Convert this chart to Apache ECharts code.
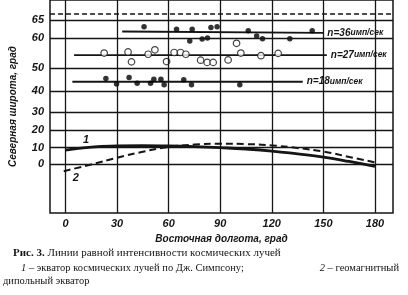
<!DOCTYPE html>
<html>
<head>
<meta charset="utf-8">
<script src="https://cdn.jsdelivr.net/npm/echarts@6/dist/echarts.min.js"></script>
<style>
html,body{margin:0;padding:0;background:#fff;}
#chart{width:408px;height:295px;}
</style>
</head>
<body>
<div id="chart"></div>
<script>
// долгота / широта
var lonTicks = [0, 30, 60, 90, 120, 150, 180];
var latTicks = [0, 10, 20, 30, 40, 50, 60, 65];

var n36 = [[45.7,63.3],[64.6,62.6],[73.7,62.6],[72.3,59.2],[79.5,59.8],[82.6,60.1],[84.6,63.1],[88.2,63.3],[106.3,62.2],[111.2,60.7],[114.6,59.9],[130.5,59.9],[143.5,62.2]];
var n36Line = [[33,62],[150,61.6]];

var n27 = [[22.5,55.3],[36.4,55.7],[38.4,52.2],[48.1,54.9],[52,56.4],[58.8,52.3],[63.2,55.5],[66.9,55.5],[70,54.9],[78.6,52.8],[82.4,52],[85.9,52],[94.6,52.9],[99.5,58.5],[102,55.3],[113.7,54.4],[123.7,55.2]];
var n27Line = [[5,54.6],[152,54.6]];

var n18 = [[23.5,45.7],[29.7,43.3],[37,46.1],[41.7,43.7],[49.5,43.7],[51.4,45.4],[55.5,45.4],[57.4,43],[68.8,45.1],[73.3,43],[101.4,43]];
var n18Line = [[4,44.3],[138,44.3]];

var eqLon = [0, 15, 30, 45, 60, 75, 90, 105, 120, 135, 150, 165, 180];
var simpson = [8.5, 10.3, 11, 11.2, 11, 10.6, 10, 9.2, 8, 6.3, 4.4, 1.8, -1.2];
var dipoleLon = [-1, 15, 30, 45, 60, 75, 90, 105, 120, 135, 150, 165, 182];
var dipole = [-4, 0, 4, 7.6, 10.4, 11.8, 12.3, 12.1, 11.3, 9.8, 7.7, 4.5, 0.8];
var polarLat = 66.5;

var yMin = -0.507, yMax = 1.718;

// ось широт в проекции Меркатора
function merc(lat){ return Math.log(Math.tan(Math.PI/4 + lat*Math.PI/360)); }
function unmerc(m){ return (2*Math.atan(Math.exp(m)) - Math.PI/2) * 180/Math.PI; }
function pts(arr){ return arr.map(function(p){ return [p[0], merc(p[1])]; }); }

var ink = '#151515';
var sans = '"Liberation Sans", Arial, sans-serif';
var serif = '"Liberation Serif", "Times New Roman", serif';

var chart = echarts.init(document.getElementById('chart'), null, {renderer:'canvas'});

function levelLine(data, txt){
  return {
    type:'line', data:pts(data), symbol:'none', z:2,
    lineStyle:{color:ink, width:1.8},
    endLabel:{
      show:true, distance:4,
      formatter:'{a|' + txt + '}{b|имп/сек}',
      rich:{
        a:{fontFamily:sans, fontStyle:'italic', fontWeight:'bold', fontSize:10, color:ink},
        b:{fontFamily:sans, fontStyle:'italic', fontWeight:'bold', fontSize:8.5, color:ink}
      }
    }
  };
}

// сетка + пунктир полярного круга
var solid = {color:ink, width:1.3, type:'solid'};
var markLines = lonTicks.map(function(v){
    return [{coord:[v, yMin], lineStyle:solid}, {coord:[v, yMax]}];
  })
  .concat(latTicks.map(function(v){ return {yAxis:merc(v), lineStyle:solid}; }))
  .concat([{yAxis:merc(polarLat), lineStyle:{color:ink, width:1.5, type:[5,3]}}]);

var option = {
  backgroundColor:'#fff',
  animation:false,
  grid:{left:50, right:15, top:-1, bottom:82, show:true, borderColor:ink, borderWidth:1.5},
  xAxis:{
    type:'value', min:-9, max:190.5,
    name:'Восточная долгота, град', nameLocation:'middle', nameGap:19,
    nameTextStyle:{fontFamily:sans, fontStyle:'italic', fontWeight:'bold', fontSize:10, color:ink},
    axisLine:{show:false},
    axisTick:{show:false, customValues:lonTicks},
    axisLabel:{customValues:lonTicks, margin:5, fontFamily:sans, fontStyle:'italic', fontWeight:'bold', fontSize:11, color:ink},
    splitLine:{show:false}
  },
  yAxis:{
    type:'value', min:yMin, max:yMax,
    name:'Северная широта, град', nameLocation:'middle', nameGap:32, nameRotate:90,
    nameTextStyle:{fontFamily:sans, fontStyle:'italic', fontWeight:'bold', fontSize:10, color:ink},
    axisLine:{show:false},
    axisTick:{show:false, customValues:latTicks.map(merc)},
    axisLabel:{
      customValues:latTicks.map(merc), margin:6,
      fontFamily:sans, fontStyle:'italic', fontWeight:'bold', fontSize:11, color:ink,
      formatter:function(v){ return String(Math.round(unmerc(v))); }
    },
    splitLine:{show:false}
  },
  series:[
    levelLine(n36Line, 'n=36'),
    levelLine(n27Line, 'n=27'),
    levelLine(n18Line, 'n=18'),
    {
      type:'scatter', data:pts(n36), symbol:'circle', symbolSize:5.5, z:3,
      itemStyle:{color:'#000'}
    },
    {
      type:'scatter', data:pts(n27), symbol:'circle', symbolSize:6.5, z:3,
      itemStyle:{color:'#fff', borderColor:ink, borderWidth:1.2}
    },
    {
      type:'scatter', data:pts(n18), symbol:'circle', symbolSize:5.5, z:3,
      itemStyle:{color:'#000'}
    },
    {
      type:'line', smooth:true, symbol:'none', z:2,
      data:eqLon.map(function(x,i){ return [x, merc(simpson[i])]; }),
      lineStyle:{color:ink, width:2.8},
      markPoint:{
        symbol:'circle', symbolSize:0,
        label:{show:true, formatter:'1', fontFamily:sans, fontStyle:'italic', fontWeight:'bold', fontSize:11, color:ink},
        data:[{coord:[12, merc(14.3)]}]
      }
    },
    {
      type:'line', smooth:true, symbol:'none', z:2,
      data:dipoleLon.map(function(x,i){ return [x, merc(dipole[i])]; }),
      lineStyle:{color:ink, width:2, type:[7,4]},
      markPoint:{
        symbol:'circle', symbolSize:0,
        label:{show:true, formatter:'2', fontFamily:sans, fontStyle:'italic', fontWeight:'bold', fontSize:11, color:ink},
        data:[{coord:[6, merc(-7.8)]}]
      },
      markLine:{
        silent:true, symbol:'none', label:{show:false},
        lineStyle:{color:ink, width:1.5, type:[5,3]},
        data:markLines
      }
    }
  ],
  graphic:[
    {
      type:'text', left:13, top:248,
      style:{
        text:'{b|Рис. 3.} Линии равной интенсивности космических лучей',
        font:'11px ' + serif, fill:ink,
        rich:{b:{fontWeight:'bold', fontFamily:serif, fontSize:11}}
      }
    },
    {
      type:'text', left:21, top:263,
      style:{
        text:'{i|1} – экватор космических лучей по Дж. Симпсону;',
        font:'10.5px ' + serif, fill:ink,
        rich:{i:{fontStyle:'italic', fontFamily:serif, fontSize:10.5}}
      }
    },
    {
      type:'text', right:9, top:263,
      style:{
        text:'{i|2} – геомагнитный',
        font:'10.5px ' + serif, fill:ink,
        rich:{i:{fontStyle:'italic', fontFamily:serif, fontSize:10.5}}
      }
    },
    {
      type:'text', left:3, top:276,
      style:{text:'дипольный экватор', font:'10.5px ' + serif, fill:ink}
    }
  ]
};
chart.setOption(option);
</script>
</body>
</html>
